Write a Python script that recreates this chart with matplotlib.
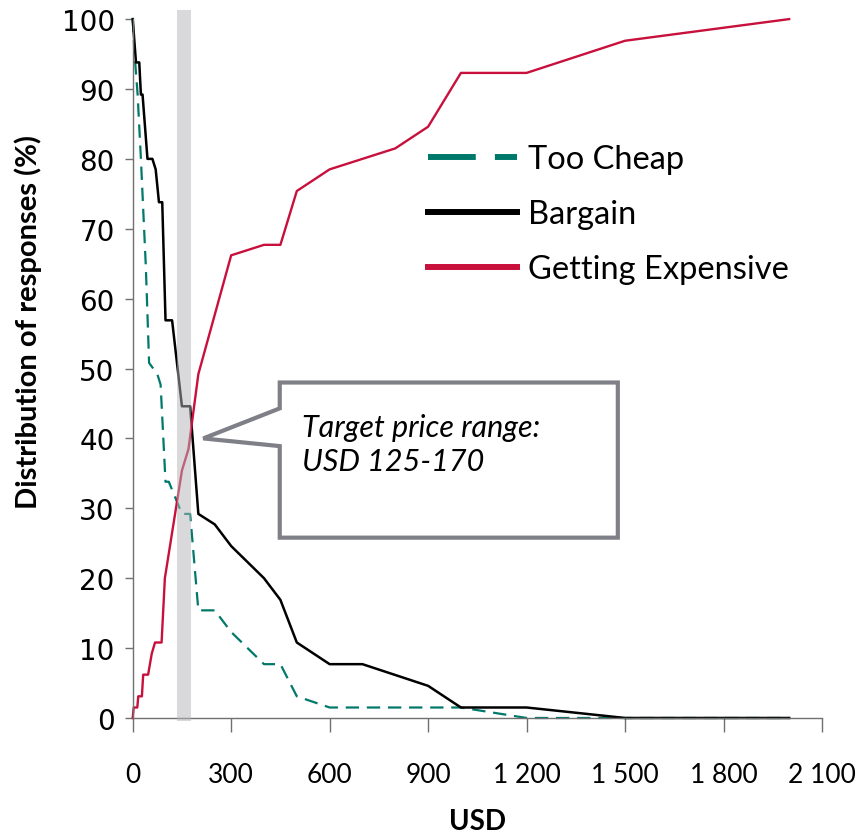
import matplotlib
matplotlib.use("Agg")
import matplotlib.pyplot as plt
from matplotlib.lines import Line2D
from matplotlib.patches import Polygon
from matplotlib.ticker import FuncFormatter

# -------------------------
# Data
# -------------------------
too_cheap_usd = [0, 5, 15, 25, 40, 50, 75, 85, 100, 110, 150, 175, 200, 250,
                 300, 400, 450, 500, 600, 1000, 1200, 2000]
too_cheap_pct = [100, 95.4, 89.2, 80.0, 64.6, 50.8, 49.2, 47.7, 33.8, 33.8,
                 29.2, 29.2, 15.4, 15.4, 12.3, 7.7, 7.7, 3.1, 1.5, 1.5, 0, 0]

bargain_usd = [0, 10, 20, 25, 30, 45, 60, 70, 80, 90, 100, 120, 150, 175, 200,
               250, 300, 400, 450, 500, 600, 700, 900, 1000, 1200, 1500, 2000]
bargain_pct = [100, 93.8, 93.8, 89.2, 89.2, 80.0, 80.0, 78.5, 73.8, 73.8, 56.9,
               56.9, 44.6, 44.6, 29.2, 27.7, 24.6, 20.0, 16.9, 10.8, 7.7, 7.7,
               4.6, 1.5, 1.5, 0, 0]

expensive_usd = [0, 3, 14, 17, 28, 32, 47, 58, 68, 88, 98, 150, 170, 200, 300,
                 400, 450, 500, 600, 800, 900, 1000, 1200, 1500, 2000]
expensive_pct = [0, 1.5, 1.5, 3.1, 3.1, 6.2, 6.2, 9.2, 10.8, 10.8, 20.0, 35.4,
                 38.5, 49.2, 66.2, 67.7, 67.7, 75.4, 78.5, 81.5, 84.6, 92.3,
                 92.3, 96.9, 100]

series_labels = ["Too Cheap", "Bargain", "Getting Expensive"]
target_range = (135, 177)
callout_text = "Target price range:\nUSD 125-170"

x_ticks = [0, 300, 600, 900, 1200, 1500, 1800, 2100]
y_ticks = [0, 10, 20, 30, 40, 50, 60, 70, 80, 90, 100]

TEAL = "#00796B"
RED = "#C8103C"
BLACK = "#000000"
AXIS_GREY = "#707070"

# -------------------------
# Figure
# -------------------------
fig = plt.figure(figsize=(8.6, 8.37), dpi=100)
ax = fig.add_axes([0.1543, 0.141, 0.8015, 0.835])

ax.plot(too_cheap_usd, too_cheap_pct, color=TEAL, lw=1.6,
        dashes=(6, 3.5), zorder=2, clip_on=False)
ax.plot(bargain_usd, bargain_pct, color=BLACK, lw=1.8, zorder=2, clip_on=False)
ax.plot(expensive_usd, expensive_pct, color=RED, lw=1.7, zorder=2, clip_on=False)

# target price band drawn over the lines
ax.axvspan(target_range[0], target_range[1], ymin=-0.005, ymax=1.013,
           color="#b4b4b9", alpha=0.5, lw=0, zorder=3, clip_on=False)

ax.set_xlim(0, 2100)
ax.set_ylim(0, 100)

for side in ["top", "right"]:
    ax.spines[side].set_visible(False)
for side in ["left", "bottom"]:
    ax.spines[side].set_color(AXIS_GREY)
    ax.spines[side].set_linewidth(1.0)

ax.set_xticks(x_ticks)
ax.set_yticks(y_ticks)
ax.xaxis.set_major_formatter(FuncFormatter(lambda v, p: f"{int(v):,}".replace(",", " ")))
ax.tick_params(axis="x", direction="out", length=10, width=1, color=AXIS_GREY,
               pad=22, labelsize=19)
ax.tick_params(axis="y", direction="out", length=6, width=1, color=AXIS_GREY,
               pad=7, labelsize=20)
for lab in ax.get_xticklabels():
    lab.set_fontfamily("Lato")
for lab in ax.get_yticklabels():
    lab.set_fontfamily("DejaVu Sans")

ax.set_xlabel("USD", fontsize=20, fontweight="bold", family="Lato")
ax.set_ylabel("Distribution of responses (%)", fontsize=21, fontweight="bold",
              family="Lato")
ax.xaxis.set_label_coords(0.5, -0.129)
ax.yaxis.set_label_coords(-0.1316, 0.568)

# -------------------------
# Legend
# -------------------------
handles = [
    Line2D([], [], color=TEAL, lw=4.3, dashes=(8, 3.2)),
    Line2D([], [], color=BLACK, lw=4.3),
    Line2D([], [], color=RED, lw=4.3),
]
leg = ax.legend(handles, series_labels, loc="upper left",
                bbox_to_anchor=(0.428, 0.821), frameon=False,
                prop={"family": "Lato", "size": 23.5}, handlelength=2.73,
                handletextpad=0.34, labelspacing=0.77, borderpad=0,
                borderaxespad=0)

# -------------------------
# Callout box
# -------------------------
callout = Polygon([(448, 48.0), (1478, 48.0), (1478, 25.8), (448, 25.8),
                   (448, 38.9), (215, 40.0), (448, 44.3)],
                  closed=True, facecolor="white", edgecolor="#7f7f87",
                  lw=3, zorder=5, clip_on=False, joinstyle="miter")
ax.add_patch(callout)
ax.text(515, 39.2, callout_text, fontsize=22, style="italic", family="Lato",
        va="center", ha="left", linespacing=1.3, zorder=6)

fig.savefig("out.png", dpi=100)
